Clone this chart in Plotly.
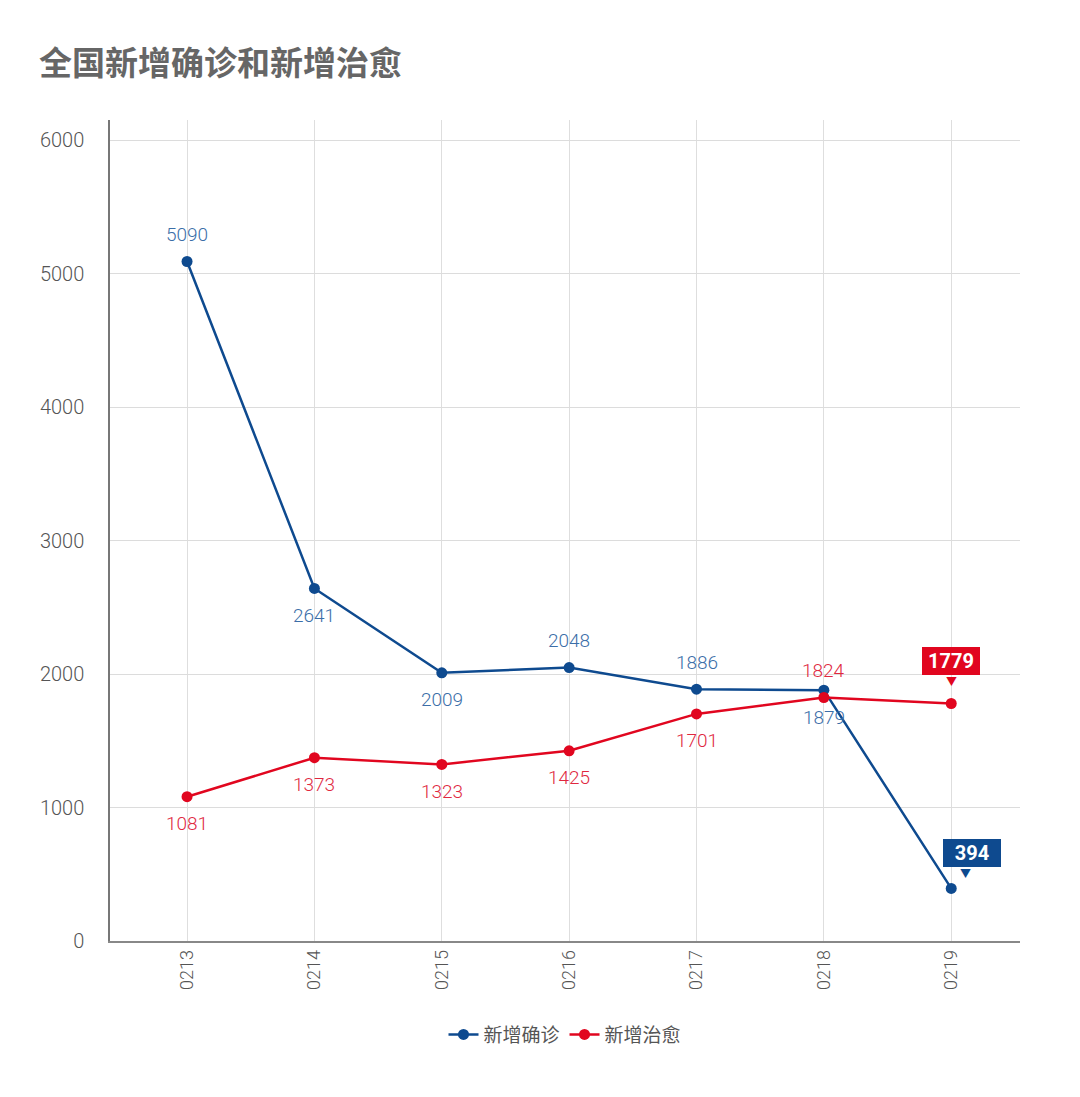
import plotly.graph_objects as go

dates = ["0213", "0214", "0215", "0216", "0217", "0218", "0219"]
confirmed = [5090, 2641, 2009, 2048, 1886, 1879, 394]
cured = [1081, 1373, 1323, 1425, 1701, 1824, 1779]

# label placement per point: 1 = above, -1 = below, 0 = callout box
confirmed_pos = [1, -1, -1, 1, 1, -1, 0]
cured_pos = [-1, -1, -1, -1, -1, 1, 0]

BLUE = "#0e4a8f"
BLUE_TXT = "#3b6ea8"
RED = "#e1061f"
RED_TXT = "#e0283f"
FONT = "Noto Sans CJK SC, sans-serif"
NUM_FONT = "Roboto, Liberation Sans, sans-serif"

xs = list(range(len(dates)))

fig = go.Figure()
fig.add_trace(go.Scatter(x=xs, y=confirmed, name="新增确诊", mode="lines+markers",
                         line=dict(color=BLUE, width=2.5), marker=dict(size=11, color=BLUE)))
fig.add_trace(go.Scatter(x=xs, y=cured, name="新增治愈", mode="lines+markers",
                         line=dict(color=RED, width=2.5), marker=dict(size=11, color=RED)))

annotations = []
for vals, pos, col, txtcol, box_dx in [(confirmed, confirmed_pos, BLUE, BLUE_TXT, 21),
                                        (cured, cured_pos, RED, RED_TXT, 0)]:
    for x, v, p in zip(xs, vals, pos):
        if p == 0:
            box_y = 35 if box_dx else 43
            annotations.append(dict(x=x, y=v, text="<b>%d</b>" % v, showarrow=False,
                                    xshift=box_dx, yshift=box_y, width=54, height=24,
                                    bgcolor=col, bordercolor=col, borderpad=1,
                                    font=dict(size=20, color="white", family=NUM_FONT)))
            annotations.append(dict(x=x, y=v, text="▼", showarrow=False,
                                    xshift=box_dx - 7 if box_dx else 0,
                                    yshift=box_y - 20,
                                    font=dict(size=11, color=col)))
        else:
            annotations.append(dict(x=x, y=v, text=str(v), showarrow=False,
                                    yshift=27 * p,
                                    font=dict(size=19, color=txtcol, family=NUM_FONT, weight=300)))

annotations.append(dict(text="<b>全国新增确诊和新增治愈</b>", xref="paper", yref="paper",
                        x=-0.08, y=1.0, xanchor="left", yanchor="bottom", yshift=33,
                        showarrow=False, font=dict(size=33, color="#666666", family=FONT)))

fig.update_layout(
    width=1080, height=1097,
    margin=dict(l=102, r=68, t=112, b=164),
    plot_bgcolor="white", paper_bgcolor="white",
    font=dict(family=FONT, color="#555555"),
    annotations=annotations,
    showlegend=True,
    legend=dict(orientation="h", x=0.5, xanchor="center", y=-0.114, yanchor="middle",
                font=dict(size=19, color="#555555")),
    xaxis=dict(tickvals=xs, ticktext=dates, range=[-0.605, 6.54], tickangle=-90,
               showgrid=True, gridcolor="#dedede", gridwidth=1,
               showline=True, linecolor="#888888", linewidth=1.5,
               zeroline=False, ticks="",
               tickfont=dict(size=18, color="#555555", family=NUM_FONT, weight=300)),
    yaxis=dict(range=[0, 6150], tickvals=[0, 1000, 2000, 3000, 4000, 5000, 6000],
               showgrid=True, gridcolor="#dcdcdc", gridwidth=1,
               showline=True, linecolor="#777777", linewidth=1.5,
               zeroline=False, ticks="", ticklabelstandoff=20,
               tickfont=dict(size=20, color="#555555", family=NUM_FONT, weight=300)),
)

fig.write_html("out.html")
